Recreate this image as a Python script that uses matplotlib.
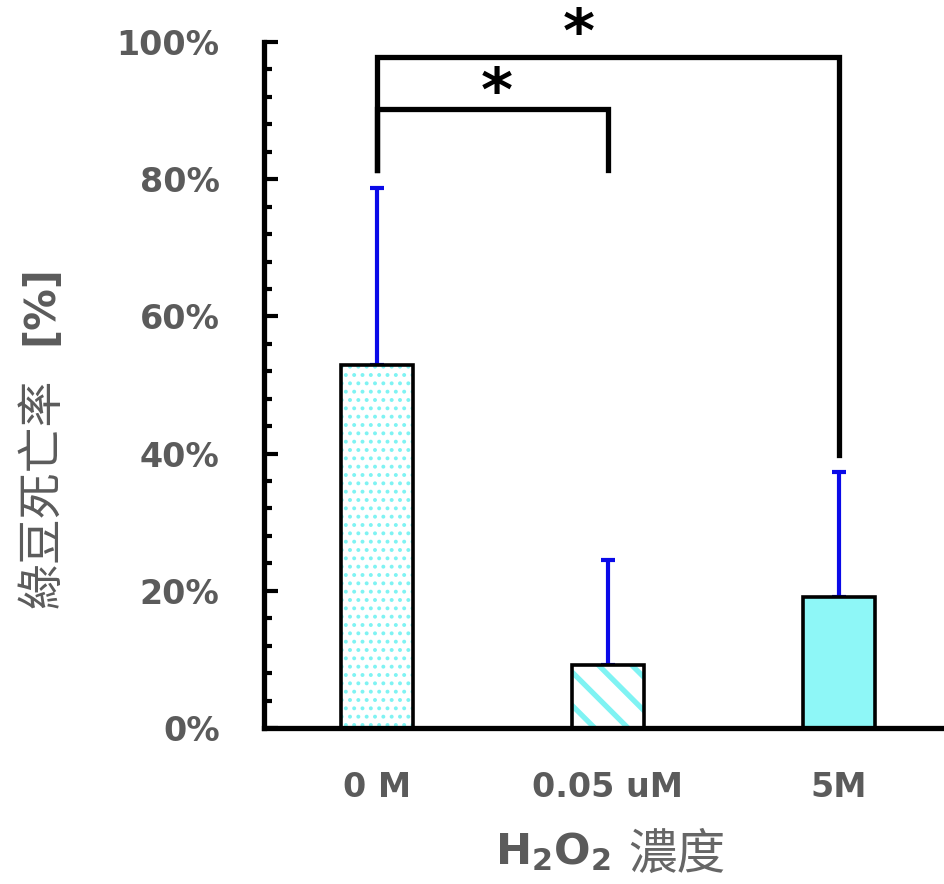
import matplotlib
matplotlib.use("Agg")
import matplotlib.pyplot as plt
from matplotlib.ticker import MultipleLocator, FuncFormatter

categories = ["0 M", "0.05 uM", "5M"]
means = [52.9, 9.2, 19.1]
err_upper = [25.8, 15.3, 18.2]
# significance brackets: (left index, right index, top y, left leg bottom, right leg bottom)
brackets = [(0, 2, 97.8, 81.3, 39.8), (0, 1, 90.2, 81.3, 81.3)]

grey = "#5b5b5b"
cyan = "#7ff3f3"
plt.rcParams['mathtext.fontset'] = 'dejavusans'

fig = plt.figure(figsize=(9.45, 8.84), dpi=100)
ax = fig.add_axes([0.2794, 0.1765, 0.7206, 0.776])

x = list(range(len(categories)))
w = 0.31
styles = [dict(facecolor="white", hatch=".."), dict(facecolor="white", hatch="\\"),
          dict(facecolor="#8ef7f7", hatch=None)]
hlw = [1.6, 3.8, 1.0]
for i in x:
    with plt.rc_context({'hatch.linewidth': hlw[i], 'hatch.color': cyan}):
        ax.bar(x[i], means[i], width=w, facecolor=styles[i]["facecolor"],
               hatch=styles[i]["hatch"], edgecolor=cyan, linewidth=0, zorder=2)
    ax.bar(x[i], means[i], width=w, fill=False, edgecolor="black", linewidth=2.6, zorder=3)

ax.errorbar(x, means, yerr=[[0]*3, err_upper], fmt="none", ecolor="#0a0ae8",
            elinewidth=3, capsize=5, capthick=3, zorder=1)

for (a, b, top, la, lb) in brackets:
    ax.plot([x[a], x[a], x[b], x[b]], [la, top, top, lb], color="black", lw=3.8,
            solid_joinstyle="miter", clip_on=False, zorder=4)
ax.text(0.875, 101.0, "*", fontsize=44, fontweight="bold", ha="center", va="center", clip_on=False)
ax.text(0.52, 92.3, "*", fontsize=44, fontweight="bold", ha="center", va="center", clip_on=False)

ax.set_xlim(-0.489, 2.459)
ax.set_ylim(0, 100)
ax.spines['top'].set_visible(False)
ax.spines['right'].set_visible(False)
ax.spines['left'].set_linewidth(3.8)
ax.spines['bottom'].set_linewidth(3.8)

ax.yaxis.set_major_locator(MultipleLocator(20))
ax.yaxis.set_minor_locator(MultipleLocator(4))
ax.yaxis.set_major_formatter(FuncFormatter(lambda v, p: f"{int(round(v))}%"))
ax.tick_params(axis='y', which='major', direction='in', length=10, width=3, pad=32,
               labelsize=24, labelcolor=grey)
ax.tick_params(axis='y', which='minor', direction='in', length=6, width=3)
for t in ax.get_yticklabels():
    t.set_fontweight("bold")
ax.set_xticks(x)
ax.set_xticklabels(categories, fontsize=24, fontweight="bold", color=grey)
ax.tick_params(axis='x', length=0, pad=31)

fig.text(0.585, 0.022, r"$\mathbf{H_2O_2}$", fontsize=31, color=grey, ha="center", va="baseline")
fig.text(0.716, 0.017, "濃度", fontsize=35, color="#666666", ha="center", va="baseline",
         family=["Noto Sans CJK TC", "DejaVu Sans"])
fig.text(0.045, 0.442, "綠豆死亡率", fontsize=33, color=grey, rotation=90, ha="center", va="center",
         family=["Noto Sans CJK TC", "DejaVu Sans"])
fig.text(0.043, 0.655, "[%]", fontsize=30, color=grey, rotation=90, ha="center", va="center",
         fontweight="bold")

fig.savefig("out.png", dpi=100)
